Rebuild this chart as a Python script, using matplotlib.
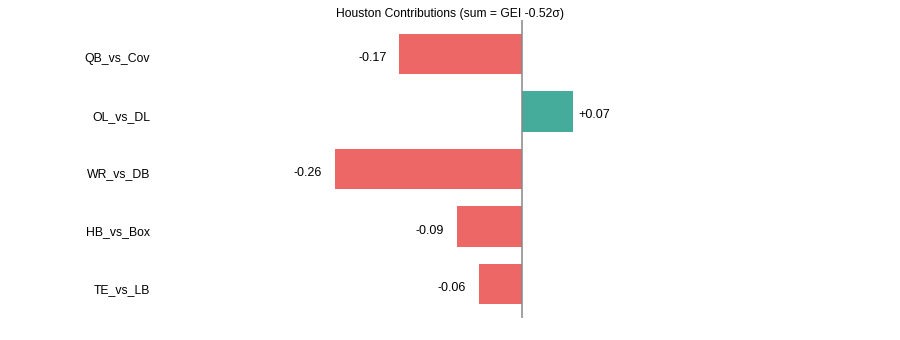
import matplotlib.pyplot as plt
from matplotlib.transforms import ScaledTranslation

plt.rcParams['font.family'] = ['Liberation Sans', 'DejaVu Sans']

# matchup contributions to the game edge index
matchups = ["QB_vs_Cov", "OL_vs_DL", "WR_vs_DB", "HB_vs_Box", "TE_vs_LB"]
contrib = [-0.17, 0.07, -0.26, -0.09, -0.06]
team = "Houston"
gei_total = -0.52

pos_color = "#45ab9a"
neg_color = "#ee6767"

fig = plt.figure(figsize=(9, 3.4), dpi=100)
ax = fig.add_axes([157 / 900, 22 / 340, 586 / 900, 298 / 340])

colors = [pos_color if v >= 0 else neg_color for v in contrib]
bars = ax.barh(matchups, contrib, color=colors, height=0.7)
ax.invert_yaxis()
ax.axvline(0, color="#888888", linewidth=1.1)

for rect, v in zip(bars, contrib):
    y = rect.get_y() + rect.get_height() / 2
    if v >= 0:
        ax.annotate(f"+{v:.2f}", (v, y), xytext=(6, -4), textcoords="offset pixels",
                    ha="left", va="center", fontsize=9)
    else:
        ax.annotate(f"{v:.2f}", (v, y), xytext=(-13, -4), textcoords="offset pixels",
                    ha="right", va="center", fontsize=9)

ax.set_xlim(-0.506, 0.306)
ax.set_xticks([])
ax.tick_params(axis="y", length=0, labelsize=8.8, pad=5)
# nudge the category labels down a little
shift = ScaledTranslation(0, -4 / 100, fig.dpi_scale_trans)
for lbl in ax.get_yticklabels():
    lbl.set_transform(lbl.get_transform() + shift)
for s in ax.spines.values():
    s.set_visible(False)

ax.set_title(f"{team} Contributions (sum = GEI {gei_total:.2f}σ)", fontsize=8.7, pad=2.5)

fig.savefig("out.png", dpi=100)
